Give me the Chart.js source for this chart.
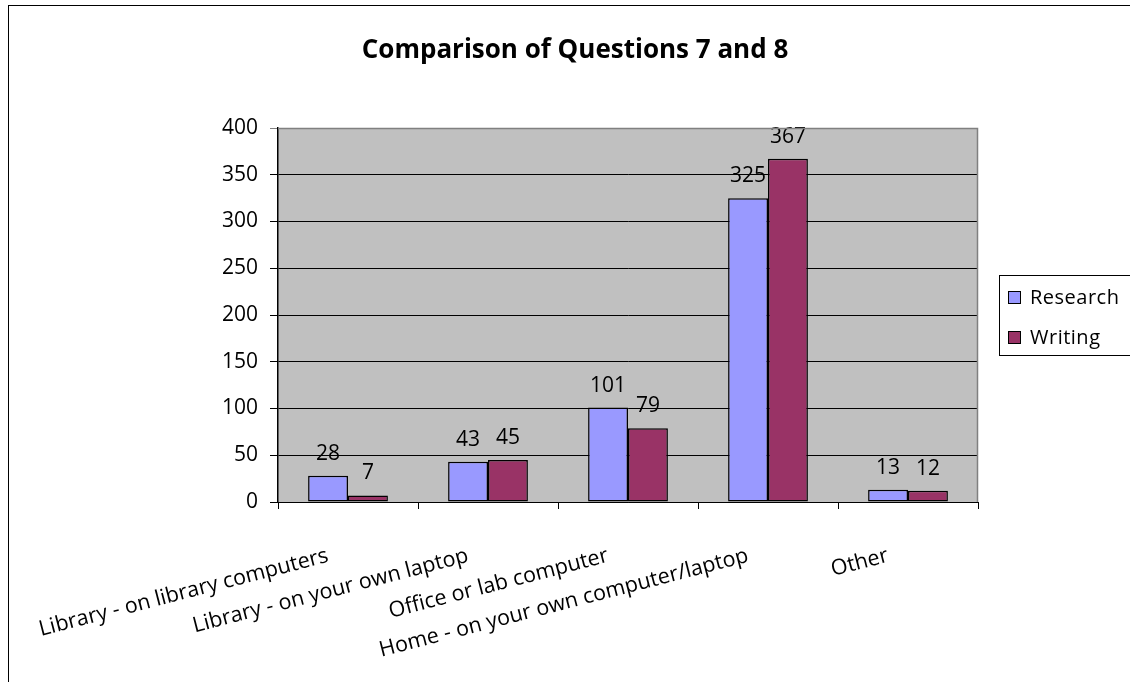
<!DOCTYPE html>
<html lang="en">
<head>
  <meta charset="UTF-8" />
  <title>Comparison of Questions 7 and 8</title>
  <script src="https://cdn.jsdelivr.net/npm/chart.js"></script>
  <style>
    html, body {
      margin: 0;
      padding: 0;
      background: #fff;
    }
    #wrap {
      width: 1130px;
      height: 682px;
    }
  </style>
</head>
<body>
  <div id="wrap"><canvas id="chart" width="1130" height="682"></canvas></div>

<script>
  const titleText = 'Comparison of Questions 7 and 8';
  const categories = [
    'Library - on library computers',
    'Library - on your own laptop',
    'Office or lab computer',
    'Home - on your own computer/laptop',
    'Other'
  ];
  const researchValues = [28, 43, 101, 325, 13];
  const writingValues = [7, 45, 79, 367, 12];
  const yTicks = [0, 50, 100, 150, 200, 250, 300, 350, 400];

  const FONT = '"Open Sans", "DejaVu Sans", sans-serif';

  // white page + outer frame, title, plot background
  const frame = {
    id: 'frame',
    beforeDraw(chart) {
      const c = chart.ctx;
      c.save();
      c.fillStyle = '#fff';
      c.fillRect(0, 0, chart.width, chart.height);
      c.strokeStyle = '#000';
      c.lineWidth = 1;
      c.strokeRect(8.5, 5.5, 1400, 1000);
      const a = chart.chartArea;
      c.fillStyle = '#c0c0c0';
      c.fillRect(a.left, a.top, a.right - a.left, a.bottom - a.top);
      c.fillStyle = '#000';
      c.font = 'bold 26px ' + FONT;
      c.textAlign = 'center';
      c.textBaseline = 'alphabetic';
      c.fillText(titleText, 575, 58);
      c.restore();
    },
    afterDraw(chart) {
      const c = chart.ctx;
      const a = chart.chartArea;
      c.save();
      c.strokeStyle = '#808080';
      c.lineWidth = 1.5;
      c.beginPath();
      c.moveTo(a.left, a.top + 0.5);
      c.lineTo(a.right - 0.5, a.top + 0.5);
      c.lineTo(a.right - 0.5, a.bottom);
      c.stroke();

      // legend with a box
      c.letterSpacing = '0.5px';
      c.fillStyle = '#fff';
      c.strokeStyle = '#000';
      c.lineWidth = 1;
      c.fillRect(999.5, 275.5, 200, 80);
      c.strokeRect(999.5, 275.5, 200, 80);
      const rows = [297, 337];
      chart.data.datasets.forEach((ds, i) => {
        c.fillStyle = ds.backgroundColor;
        c.fillRect(1008, rows[i] - 6, 12, 12);
        c.strokeRect(1008.5, rows[i] - 5.5, 12, 12);
        c.fillStyle = '#000';
        c.font = '20px ' + FONT;
        c.textAlign = 'left';
        c.textBaseline = 'middle';
        c.fillText(ds.label, 1030, rows[i] + 1);
      });
      c.restore();
    }
  };

  // value labels above bars
  const valueLabels = {
    id: 'valueLabels',
    afterDatasetsDraw(chart) {
      const c = chart.ctx;
      c.save();
      c.fillStyle = '#000';
      c.font = '21px ' + FONT;
      c.textAlign = 'center';
      c.textBaseline = 'alphabetic';
      chart.data.datasets.forEach((ds, i) => {
        chart.getDatasetMeta(i).data.forEach((bar, j) => {
          c.fillText(String(ds.data[j]), bar.x, bar.y - 16);
        });
      });
      c.restore();
    }
  };

  const chart = new Chart(document.getElementById('chart'), {
    type: 'bar',
    data: {
      labels: categories,
      datasets: [{
        label: 'Research',
        data: researchValues,
        backgroundColor: '#9999ff',
        borderColor: '#000',
        borderWidth: 1.5,
        borderSkipped: false,
        categoryPercentage: 0.57,
        barPercentage: 1.0
      }, {
        label: 'Writing',
        data: writingValues,
        backgroundColor: '#993366',
        borderColor: '#000',
        borderWidth: 1.5,
        borderSkipped: false,
        categoryPercentage: 0.57,
        barPercentage: 1.0
      }]
    },
    options: {
      responsive: false,
      animation: false,
      layout: {
        padding: { left: 0, top: 128, right: 152, bottom: 0 }
      },
      plugins: {
        legend: { display: false },
        title: { display: false },
        tooltip: { enabled: false }
      },
      scales: {
        x: {
          afterFit(scale) {
            scale.height = 180;
            // long rotated first label must not push the plot area
            scale.paddingLeft = 0;
            scale.paddingRight = 0;
          },
          grid: {
            drawOnChartArea: false,
            drawTicks: true,
            tickLength: 7,
            color: '#000',
            offset: true
          },
          border: { color: '#000', width: 1 },
          ticks: {
            minRotation: 14.5,
            maxRotation: 14.5,
            autoSkip: false,
            padding: 34,
            labelOffset: -20,
            color: '#000',
            font: { family: FONT, size: 21.5 }
          }
        },
        y: {
          min: 0,
          max: 400,
          afterFit(scale) { scale.width = 278; },
          afterBuildTicks(scale) {
            scale.ticks = yTicks.map(v => ({ value: v }));
          },
          grid: {
            color: ctx => (ctx.tick && ctx.tick.value === 400 ? '#808080' : '#000'),
            lineWidth: 1,
            tickLength: 8,
            drawTicks: true
          },
          border: { color: '#000', width: 1.5 },
          ticks: {
            padding: 12,
            color: '#000',
            font: { family: FONT, size: 21 }
          }
        }
      }
    },
    plugins: [frame, valueLabels]
  });
</script>
</body>
</html>
